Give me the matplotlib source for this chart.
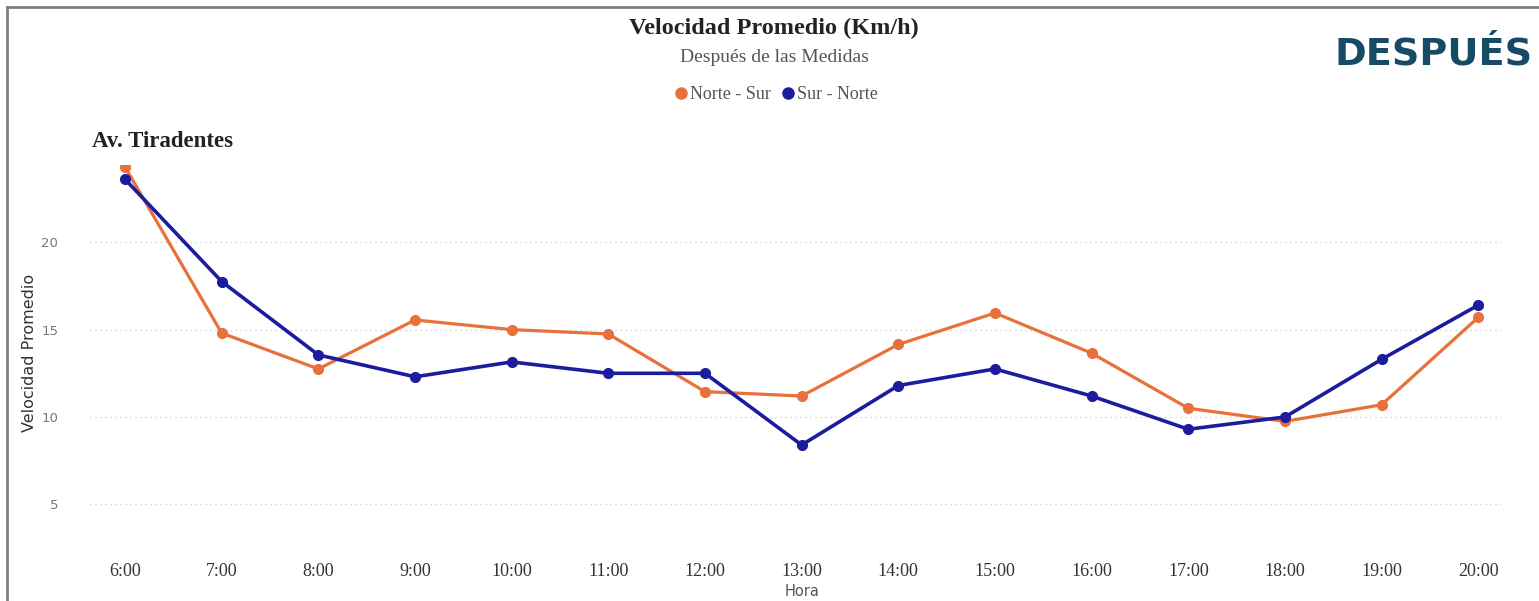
import matplotlib
matplotlib.use("Agg")
import matplotlib.pyplot as plt
from matplotlib.lines import Line2D

horas = ["6:00", "7:00", "8:00", "9:00", "10:00", "11:00", "12:00", "13:00",
         "14:00", "15:00", "16:00", "17:00", "18:00", "19:00", "20:00"]
norte_sur = [24.3, 14.8, 12.75, 15.55, 15.0, 14.75, 11.45, 11.2,
             14.15, 15.95, 13.65, 10.5, 9.75, 10.7, 15.7]
sur_norte = [23.6, 17.75, 13.55, 12.3, 13.15, 12.5, 12.5, 8.4,
             11.8, 12.75, 11.2, 9.3, 10.0, 13.3, 16.4]
yticks = [5, 10, 15, 20]

c_ns = "#E8703A"
c_sn = "#1C1C9E"

fig = plt.figure(figsize=(15.39, 6.01), dpi=100)
ax = fig.add_axes([0.0585, 0.088, 0.9165, 0.637])

x = list(range(len(horas)))
ax.plot(x, norte_sur, color=c_ns, lw=2.3, marker="o", ms=7, zorder=3, clip_on=True)
ax.plot(x, sur_norte, color=c_sn, lw=2.6, marker="o", ms=7, zorder=4, clip_on=True)

ax.set_xlim(-0.362, 14.23)
ax.set_ylim(2.5, 24.4)
ax.set_yticks(yticks)
ax.set_yticklabels([str(v) for v in yticks], fontsize=9.5, color="#777777",
                   family="DejaVu Sans")
ax.set_xticks(x)
ax.set_xticklabels(horas, fontsize=13, color="#333333", family="Liberation Serif")
ax.tick_params(axis="both", length=0)
ax.tick_params(axis="x", pad=10.5)
ax.tick_params(axis="y", pad=23)
for s in ax.spines.values():
    s.set_visible(False)
ax.grid(axis="y", color="#cccccc", linestyle=(0, (1, 3)), lw=0.9)
ax.set_axisbelow(True)

ax.set_ylabel("Velocidad Promedio", fontsize=11.5, color="#333333",
              family="DejaVu Sans")
ax.yaxis.set_label_coords(-0.0375, 0.51)
ax.set_xlabel("Hora", fontsize=10.5, color="#555555", family="DejaVu Sans")
ax.xaxis.set_label_coords(0.505, -0.095)

# Titles
fig.text(0.503, 0.952, "Velocidad Promedio (Km/h)", ha="center", va="center",
         fontsize=17.5, fontweight="bold", family="Liberation Serif", color="#222222")
fig.text(0.503, 0.904, "Después de las Medidas", ha="center", va="center",
         fontsize=14, family="Liberation Serif", color="#555555")
fig.text(0.0595, 0.765, "Av. Tiradentes", ha="left", va="center",
         fontsize=16.5, fontweight="bold", family="Liberation Serif", color="#222222")
fig.text(0.996, 0.909, "DESPUÉS", ha="right", va="center",
         fontsize=27.5, fontweight="bold", family="DejaVu Sans", color="#174A64")

# Legend
handles = [Line2D([], [], color=c_ns, marker="o", ls="", ms=8),
           Line2D([], [], color=c_sn, marker="o", ls="", ms=8)]
leg = fig.legend(handles, ["Norte - Sur", "Sur - Norte"], loc="center",
                 bbox_to_anchor=(0.5035, 0.843), ncol=2, frameon=False,
                 prop={"family": "Liberation Serif", "size": 13},
                 handletextpad=0.0, columnspacing=0.4, handlelength=1.0)
for t in leg.get_texts():
    t.set_color("#555555")

# Frame lines
fig.add_artist(Line2D([0.0048, 0.0048], [0.0, 0.988], transform=fig.transFigure,
                      color="#808080", lw=2))
fig.add_artist(Line2D([0.0048, 1.0], [0.988, 0.988], transform=fig.transFigure,
                      color="#808080", lw=2))

fig.savefig("out.png", dpi=100, facecolor="white")
